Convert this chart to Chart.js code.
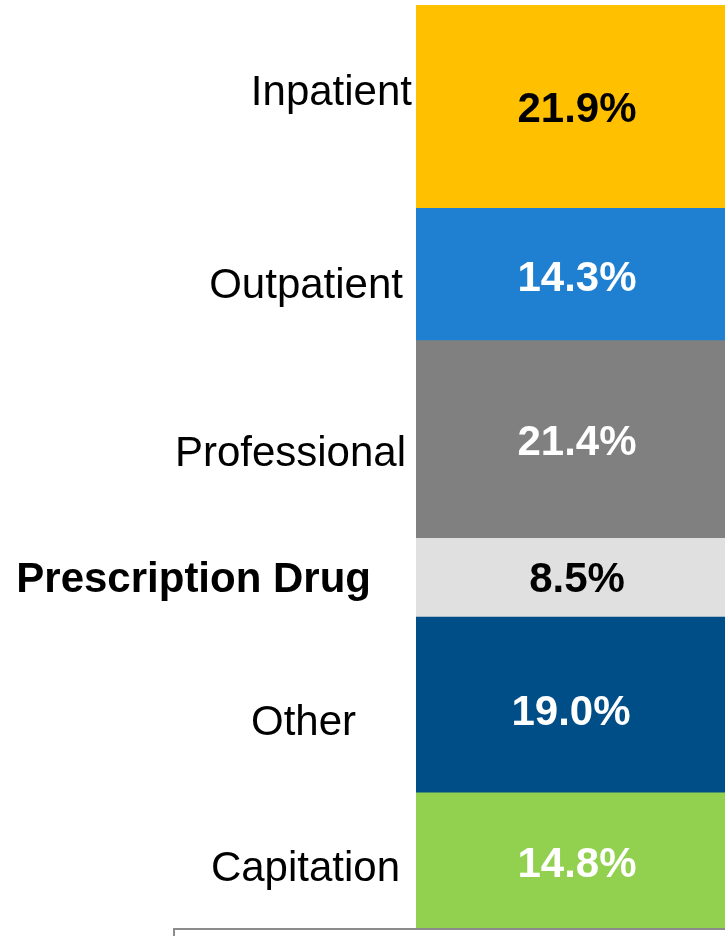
<!DOCTYPE html>
<html>
<head>
<meta charset="utf-8">
<script src="https://cdn.jsdelivr.net/npm/chart.js@4"></script>
<style>
  html, body { margin: 0; padding: 0; background: #fff; overflow: hidden; }
  #wrap { position: relative; width: 740px; height: 936px; }
  #frame {
    position: absolute; left: 173px; top: 928px; width: 600px; height: 40px;
    border: 2px solid #8c8c8c; box-sizing: border-box;
  }
</style>
</head>
<body>
<div id="wrap">
  <canvas id="chart" width="740" height="936"></canvas>
  <div id="frame"></div>
</div>
<script>
// segments, top to bottom
const categories = ['Inpatient', 'Outpatient', 'Professional', 'Prescription Drug', 'Other', 'Capitation'];
const shares = [21.9, 14.3, 21.4, 8.5, 19.0, 14.8];
const valueLabels = ['21.9%', '14.3%', '21.4%', '8.5%', '19.0%', '14.8%'];

const colors = ['#FFC000', '#1F7FD0', '#808080', '#E0E0E0', '#004E87', '#92D050'];
const valueColors = ['#000', '#fff', '#fff', '#000', '#fff', '#fff'];
const boldCategory = [false, false, false, true, false, false];

// label nudges (px): category text right edge from bar left, vertical shift; value text shift
const catRight = [-4, -13, -10, -45, -60, -16];
const catDy = [-16, 9, 12, 0, 16, 5];
const valDx = [0, 0, 0, 0, -6, 0];
const valDy = [1, 2, 1, 0, 6, 1];

const FONT = '"Liberation Sans", Arial, sans-serif';

const segmentText = {
    id: 'segmentText',
    afterDatasetsDraw(chart) {
        const c = chart.ctx;
        c.save();
        chart.data.datasets.forEach((ds, i) => {
            const bar = chart.getDatasetMeta(i).data[0];
            const cy = (bar.y + bar.base) / 2;
            const left = bar.x - bar.width / 2;
            const capHalf = 0.716 * 42 / 2;

            c.textBaseline = 'alphabetic';
            c.textAlign = 'center';
            c.fillStyle = valueColors[i];
            c.font = 'bold 42px ' + FONT;
            c.fillText(valueLabels[i], bar.x + valDx[i], cy + valDy[i] + capHalf);

            c.textAlign = 'right';
            c.fillStyle = '#000';
            c.font = (boldCategory[i] ? 'bold ' : '') + '42px ' + FONT;
            c.fillText(categories[i], left + catRight[i], cy + catDy[i] + capHalf);
        });
        c.restore();
    }
};

new Chart(document.getElementById('chart'), {
    type: 'bar',
    data: {
        labels: [''],
        datasets: categories.map((name, i) => ({
            label: name,
            data: [shares[i]],
            backgroundColor: colors[i],
            borderWidth: 0,
            barPercentage: 1,
            categoryPercentage: 1
        }))
    },
    options: {
        responsive: false,
        animation: false,
        layout: { padding: { left: 416, right: 2, top: 5, bottom: 7 } },
        scales: {
            x: { stacked: true, display: false },
            y: {
                stacked: true, display: false, reverse: true,
                min: 0, max: shares.reduce((a, b) => a + b, 0)
            }
        },
        plugins: {
            legend: { display: false },
            tooltip: { enabled: false }
        }
    },
    plugins: [segmentText]
});
</script>
</body>
</html>
